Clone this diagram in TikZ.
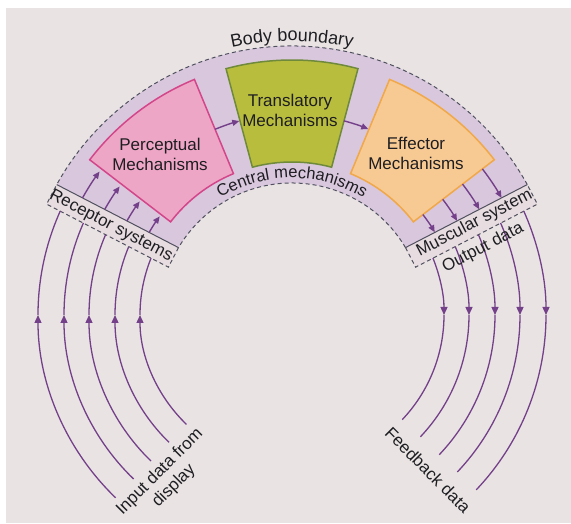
\documentclass[tikz,border=0pt]{standalone}
\usepackage{fontspec}
\setmainfont{Liberation Sans}
\usetikzlibrary{arrows.meta,decorations.text,calc}
\definecolor{bg}{HTML}{E9E4E3}
\definecolor{archfill}{HTML}{D9C7DD}
\definecolor{boxfill}{HTML}{E7DCE0}
\definecolor{pinkfill}{HTML}{EEA6C6}
\definecolor{pinkdraw}{HTML}{D4468A}
\definecolor{greenfill}{HTML}{B9BD3E}
\definecolor{greendraw}{HTML}{6F8A3A}
\definecolor{orangefill}{HTML}{F7C993}
\definecolor{orangedraw}{HTML}{F0A848}
\definecolor{purp}{HTML}{74408A}
\definecolor{dashcol}{HTML}{50505E}
\definecolor{txt}{HTML}{1E1E22}
\begin{document}
\begin{tikzpicture}[x=1pt,y=1pt,
  lbl/.style={font=\fontsize{17}{20}\selectfont, text=txt, align=center, inner sep=0pt},
  dashline/.style={draw=dashcol, line width=1pt, dash pattern=on 4pt off 3pt},
  solidline/.style={draw=dashcol, line width=1pt},
  flow/.style={draw=purp, line width=1.4pt},
  tipA/.style={-{Triangle[length=7pt,width=6pt]}},
  curve/.style={draw=purp, line width=1.3pt},
  tipB/.style={-{Triangle[length=8pt,width=7pt]}},
  sector/.style={line width=1.5pt, line join=miter}
]
\useasboundingbox (0,0) rectangle (571,523);
\fill[bg] (6,0) rectangle (571,515);
\begin{scope}[shift={(292,208)}]
  % key points of the arch ends
  \coordinate (RA) at (151:269);
  \coordinate (RB) at (149.3:132);
  \coordinate (RC) at ($(RB)+(-117.35:22)$);
  \coordinate (RD) at ($(RA)+(-117.35:22)$);
  \coordinate (MA) at (29:269);
  \coordinate (MB) at (30.7:132);
  \coordinate (MC) at ($(MB)+(-62.65:22)$);
  \coordinate (MD) at ($(MA)+(-62.65:22)$);
  % arch fill
  \fill[archfill] (MA) arc[start angle=29,end angle=151,radius=269] -- (RB)
     arc[start angle=149.3,end angle=30.7,radius=132] -- cycle;
  % end boxes
  \fill[boxfill] (RA) -- (RB) -- (RC) -- (RD) -- cycle;
  \fill[boxfill] (MA) -- (MB) -- (MC) -- (MD) -- cycle;
  \draw[dashline] (RB) -- (RC) -- (RD) -- (RA);
  \draw[dashline] (MB) -- (MC) -- (MD) -- (MA);
  \draw[solidline] (RA) -- (RB);
  \draw[solidline] (MA) -- (MB);
  % boundaries
  \draw[dashline] (MA) arc[start angle=29,end angle=151,radius=269];
  \draw[dashline] (MB) arc[start angle=30.7,end angle=149.3,radius=132];
  % sectors
  \filldraw[sector, fill=pinkfill, draw=pinkdraw] (112.5:255) arc[start angle=112.5,end angle=142.5,radius=255]
     -- (142.5:153) arc[start angle=142.5,end angle=112.5,radius=153] -- cycle;
  \filldraw[sector, fill=greenfill, draw=greendraw] (75:255) arc[start angle=75,end angle=105,radius=255]
     -- (105:153) arc[start angle=105,end angle=75,radius=153] -- cycle;
  \filldraw[sector, fill=orangefill, draw=orangedraw] (37.5:255) arc[start angle=37.5,end angle=67.5,radius=255]
     -- (67.5:153) arc[start angle=67.5,end angle=37.5,radius=153] -- cycle;
  % internal arrows
  \foreach \r/\a in {240/150.8, 215/150.55, 190/150.3, 165/149.9}
    \draw[flow, tipA] (\a:\r) arc[start angle=\a, end angle=143.3, radius=\r];
  \foreach \r/\b in {240/29.2, 215/29.45, 190/29.7, 165/30.1}
    \draw[flow, tipA] (37.5:\r) arc[start angle=37.5, end angle=\b, radius=\r];
  \draw[flow, tipA] (112.5:201) arc[start angle=112.5, end angle=105.2, radius=201];
  \draw[flow, tipA] (75:201) arc[start angle=75, end angle=67.7, radius=201];
  % input curves
  \foreach \r/\t in {254/155.85, 228/156.2, 203/156.7, 177/157.3, 152/158.0} {
    \draw[curve, tipB] (226:\r) arc[start angle=226, end angle=180, radius=\r];
    \draw[curve] (180:\r) arc[start angle=180, end angle=\t, radius=\r];
  }
  % feedback curves
  \foreach \r/\t in {254/24.15, 228/23.8, 203/23.3, 177/22.7, 152/22.0} {
    \draw[curve, tipB] (\t:\r) arc[start angle=\t, end angle=0, radius=\r];
    \draw[curve] (0:\r) arc[start angle=0, end angle=-43.5, radius=\r];
  }
  % curved labels
  \path[decorate, decoration={text along path, text align=center, text color=txt,
      text={|\fontsize{18}{20}\selectfont|Body boundary}}]
      (125:274) arc[start angle=125, end angle=55, radius=274];
  \path[decorate, decoration={text along path, text align=center, text color=txt,
      text={|\fontsize{16.5}{20}\selectfont|Central mechanisms}}]
      (130:137) arc[start angle=130, end angle=50, radius=137];
  % labels
  \node[lbl] (perc) at (-132,161) {Perceptual\\Mechanisms};
  \node[lbl] (trans) at (-2,205) {Translatory\\Mechanisms};
  \node[lbl] (eff) at (124,162) {Effector\\Mechanisms};
  \node[lbl, rotate=-27.4] (rec) at (-181,89) {Receptor systems};
  \node[lbl, rotate=27.4] (mus) at (182.5,91.5) {Muscular system};
  \node[lbl, rotate=27.4] (out) at (191,67) {Output data};
  \node[lbl, rotate=45] (inp) at (-125,-164) {Input data from\\display};
  \node[lbl, rotate=-45] (fb) at (136,-155) {Feedback data};
\end{scope}
\end{tikzpicture}
\end{document}
